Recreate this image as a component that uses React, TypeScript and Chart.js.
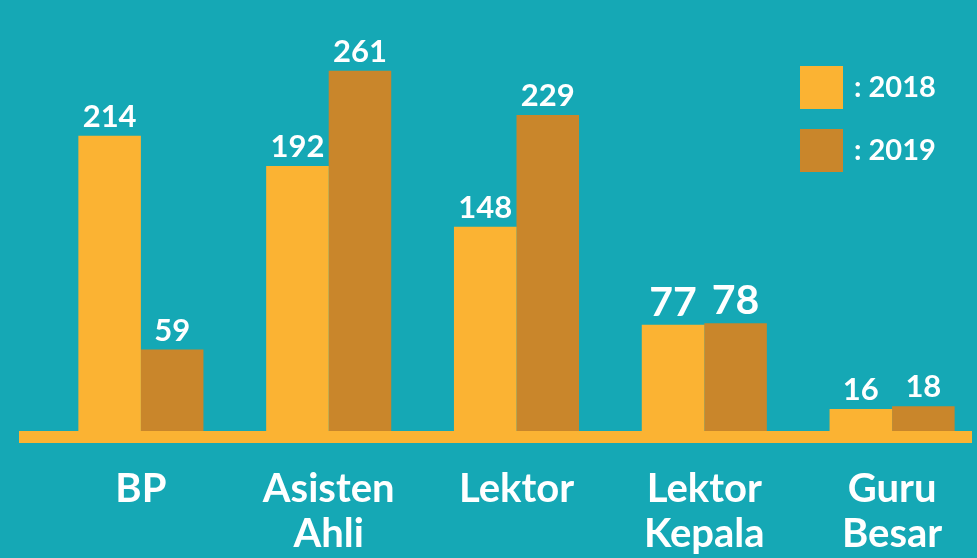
import React, { useEffect, useRef } from "react";
import { Chart, registerables } from "chart.js";

Chart.register(...registerables);

const categories: (string | string[])[] = ["BP", ["Asisten", "Ahli"], "Lektor", ["Lektor", "Kepala"], ["Guru", "Besar"]];
const values2018 = [214, 192, 148, 77, 16];
const values2019 = [59, 261, 229, 78, 18];
const seriesLabels = [": 2018", ": 2019"];

const BG = "#15A8B5";
const C2018 = "#FBB333";
const C2019 = "#C9862B";
const FONT = "Lato, 'Open Sans', sans-serif";
const labelSizes = [31, 31, 31, 41, 31];

const decorPlugin = {
  id: "decor",
  beforeDatasetsDraw(chart: any) {
    const { ctx, chartArea } = chart;
    ctx.save();
    ctx.fillStyle = C2018;
    ctx.fillRect(19, chartArea.bottom, 953, 12);
    ctx.restore();
  },
  afterDatasetsDraw(chart: any) {
    const { ctx } = chart;
    ctx.save();
    ctx.fillStyle = "#FFFFFF";
    ctx.textAlign = "center";
    ctx.textBaseline = "alphabetic";
    chart.data.datasets.forEach((ds: any, di: number) => {
      const meta = chart.getDatasetMeta(di);
      meta.data.forEach((bar: any, i: number) => {
        ctx.font = `bold ${labelSizes[i]}px ${FONT}`;
        ctx.fillText(String(ds.data[i]), bar.x, bar.y - 9);
      });
    });
    // legend
    const colors = [C2018, C2019];
    ctx.textAlign = "left";
    ctx.textBaseline = "middle";
    ctx.font = `bold 29px ${FONT}`;
    seriesLabels.forEach((lab, i) => {
      const y = 66 + i * 63;
      ctx.fillStyle = colors[i];
      ctx.fillRect(800, y, 43, 43);
      ctx.fillStyle = "#FFFFFF";
      ctx.fillText(lab, 854, y + 22);
    });
    ctx.restore();
  },
};

export default function App() {
  const ref = useRef<HTMLCanvasElement>(null);
  useEffect(() => {
    if (!ref.current) return;
    const chart = new Chart(ref.current, {
      type: "bar",
      data: {
        labels: categories as any,
        datasets: [
          { label: "2018", data: values2018, backgroundColor: C2018, borderWidth: 0 },
          { label: "2019", data: values2019, backgroundColor: C2019, borderWidth: 0 },
        ],
      },
      options: {
        responsive: false,
        animation: false,
        layout: { padding: { top: 17, left: 47, right: 0, bottom: 0 } },
        datasets: { bar: { categoryPercentage: 0.666, barPercentage: 1 } },
        plugins: { legend: { display: false }, tooltip: { enabled: false } },
        scales: {
          x: {
            grid: { display: false, drawTicks: false },
            border: { display: false },
            ticks: {
              color: "#FFFFFF",
              padding: 36,
              font: { family: FONT, size: 40, weight: "bold", lineHeight: 1.125 },
              maxRotation: 0,
              autoSkip: false,
            },
            afterFit: (scale: any) => {
              scale.height = 127;
            },
          },
          y: {
            display: false,
            min: 0,
            max: 300,
          },
        },
      },
      plugins: [decorPlugin],
    });
    return () => chart.destroy();
  }, []);
  return (
    <div
      style={{
        position: "fixed",
        left: 0,
        top: 0,
        width: 977,
        height: 558,
        overflow: "hidden",
        background: BG,
      }}
    >
      <canvas ref={ref} width={986} height={558} style={{ display: "block" }} />
    </div>
  );
}
